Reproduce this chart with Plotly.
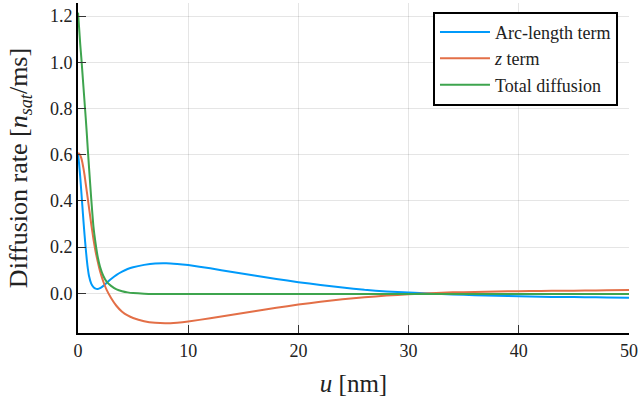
import plotly.graph_objects as go

u = [0, 0.1, 0.2, 0.3, 0.4, 0.5, 0.6, 0.7, 0.8, 0.9, 1.0, 1.2, 1.4, 1.6, 1.8, 2.0, 2.3, 2.6,
     3.0, 3.5, 4, 4.5, 5, 6, 7, 8, 9, 10, 12, 14, 16, 18, 20, 22, 24, 26, 28, 30, 32, 34,
     36, 38, 40, 42, 44, 46, 48, 50]

arc_length = [0.606, 0.56, 0.505, 0.44, 0.375, 0.31, 0.25, 0.195, 0.145, 0.105, 0.075, 0.042,
              0.027, 0.02, 0.019, 0.022, 0.032, 0.045, 0.062, 0.08, 0.094, 0.105, 0.113, 0.123,
              0.129, 0.13, 0.127, 0.122, 0.108, 0.092, 0.077, 0.062, 0.048, 0.036, 0.025, 0.015,
              0.008, 0.003, -0.001, -0.005, -0.008, -0.011, -0.013, -0.015, -0.016, -0.017,
              -0.018, -0.019]

z_term = [0.606, 0.604, 0.598, 0.585, 0.565, 0.54, 0.51, 0.475, 0.44, 0.405, 0.37, 0.3, 0.235,
          0.18, 0.135, 0.095, 0.05, 0.015, -0.02, -0.055, -0.08, -0.096, -0.107, -0.121, -0.128,
          -0.13, -0.127, -0.122, -0.108, -0.093, -0.078, -0.063, -0.049, -0.037, -0.026, -0.017,
          -0.010, -0.004, 0.0, 0.004, 0.006, 0.008, 0.009, 0.010, 0.011, 0.012, 0.013, 0.014]

total = [1.215, 1.15, 1.08, 1.02, 0.955, 0.89, 0.825, 0.76, 0.69, 0.615, 0.545, 0.41, 0.29,
         0.215, 0.155, 0.115, 0.075, 0.05, 0.032, 0.017, 0.009, 0.004, 0.001, -0.002, -0.003,
         -0.003, -0.003, -0.003, -0.003, -0.003, -0.003, -0.003, -0.003, -0.003, -0.003, -0.003,
         -0.003, -0.003, -0.003, -0.003, -0.003, -0.003, -0.003, -0.003, -0.003, -0.003, -0.003,
         -0.003]

x_ticks = [0, 10, 20, 30, 40, 50]
y_ticks = [0.0, 0.2, 0.4, 0.6, 0.8, 1.0, 1.2]

FONT = "Liberation Serif"

fig = go.Figure()
for name, vals, col in [("Arc-length term", arc_length, "#009AFA"),
                        ("<i>z</i> term", z_term, "#E36F47"),
                        ("Total diffusion", total, "#3EA44E")]:
    fig.add_trace(go.Scatter(x=u, y=vals, mode="lines", name=name,
                             line=dict(color=col, width=2, shape="spline", smoothing=0.5)))

axis_common = dict(showline=True, linecolor="black", linewidth=2, mirror=False,
                   ticks="inside", ticklen=8, tickcolor="#333333", tickwidth=1,
                   showgrid=True, gridcolor="rgba(0,0,0,0.1)", gridwidth=1,
                   zeroline=False, automargin=False,
                   tickfont=dict(family=FONT, size=18, color="#222222"))

fig.update_layout(
    width=641, height=400,
    margin=dict(l=78, r=12, t=3, b=67),
    plot_bgcolor="white", paper_bgcolor="white",
    font=dict(family=FONT, color="#222222"),
    xaxis=dict(range=[0, 50], tickvals=x_ticks,
               title=dict(text="<i>u</i> [nm]", font=dict(family=FONT, size=25)),
               **axis_common),
    yaxis=dict(range=[-0.1719, 1.2567], tickvals=y_ticks, tickformat=".1f",
               title=dict(text="Diffusion rate [<i>n</i><sub><i>sat</i></sub>/ms]",
                          font=dict(family=FONT, size=26)),
               **axis_common),
    legend=dict(x=0.98, y=0.9736, xanchor="right", yanchor="top",
                bgcolor="white", bordercolor="black", borderwidth=2,
                itemwidth=50,
                font=dict(family=FONT, size=18), tracegroupgap=0),
    showlegend=True,
)

fig.write_html("out.html", config={"displayModeBar": False},
               post_script="document.body.style.margin='0';")
